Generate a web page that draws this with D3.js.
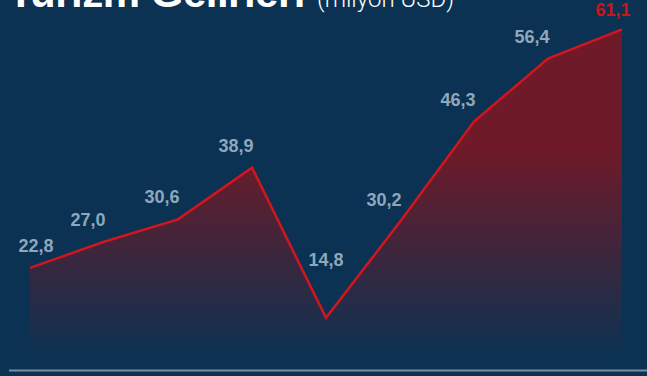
<!DOCTYPE html>
<html lang="tr">
<head>
<meta charset="UTF-8">
<title>Turizm Gelirleri</title>
<style>
  html, body { margin: 0; padding: 0; background: #0b3252; }
  svg { display: block; }
</style>
</head>
<body>
<div id="chart"></div>
<script src="https://d3js.org/d3.v7.min.js"></script>
<script>
const years = ["2016", "2017", "2018", "2019", "2020", "2021", "2022", "2023", "2024"];
const revenue = [22.8, 27.0, 30.6, 38.9, 14.8, 30.2, 46.3, 56.4, 61.1];
const titleMain = "Turizm Gelirleri";
const titleUnit = "(milyon USD)";

const width = 647, height = 376;
const bg = "#0b3252";
const data = years.map((y, i) => ({ year: y, value: revenue[i] }));

const x = d3.scalePoint().domain(years).range([30, 622]);
const y = d3.scaleLinear().domain([0, 65]).range([410, 5]);
const areaBase = 358;

const svg = d3.select("#chart").append("svg")
  .attr("width", width)
  .attr("height", height);

svg.append("rect")
  .attr("width", width)
  .attr("height", height)
  .attr("fill", bg);

// gradient for the area under the line
const grad = svg.append("defs").append("linearGradient")
  .attr("id", "area-grad")
  .attr("gradientUnits", "userSpaceOnUse")
  .attr("x1", 0).attr("x2", 0)
  .attr("y1", 150).attr("y2", areaBase);
grad.append("stop").attr("offset", "0%").attr("stop-color", "#6e1a28");
grad.append("stop").attr("offset", "100%").attr("stop-color", bg);

const area = d3.area()
  .x(d => x(d.year))
  .y0(areaBase)
  .y1(d => y(d.value));

svg.append("path")
  .datum(data)
  .attr("d", area)
  .attr("fill", "url(#area-grad)");

const line = d3.line()
  .x(d => x(d.year))
  .y(d => y(d.value));

svg.append("path")
  .datum(data)
  .attr("d", line)
  .attr("fill", "none")
  .attr("stroke", "#d3151d")
  .attr("stroke-width", 2.5)
  .attr("stroke-linejoin", "miter");

// value labels
const minVal = d3.min(revenue);
const last = data.length - 1;
svg.selectAll(".val")
  .data(data)
  .join("text")
  .attr("class", "val")
  .attr("x", (d, i) => d.value === minVal ? x(d.year) : i === last ? x(d.year) - 9 : Math.max(x(d.year) - 16, 36))
  .attr("y", (d, i) => d.value === minVal ? y(d.value) - 52 : i === last ? y(d.value) - 13 : y(d.value) - 16)
  .attr("text-anchor", "middle")
  .style("font-family", "'Liberation Sans', Arial, sans-serif")
  .style("font-weight", "bold")
  .style("font-size", "18px")
  .attr("fill", (d, i) => i === last ? "#c8161d" : "#8ea7bc")
  .text(d => d3.format(".1f")(d.value).replace(".", ","));

// bottom rule
svg.append("line")
  .attr("x1", 9).attr("x2", width)
  .attr("y1", 370.5).attr("y2", 370.5)
  .attr("stroke", "#7d8c9a")
  .attr("stroke-width", 2);

// title (partly cut off at the top, as in the original)
const title = svg.append("text")
  .attr("x", 8)
  .attr("y", 7)
  .attr("fill", "#ffffff");
title.append("tspan")
  .style("font-family", "'Liberation Sans', Arial, sans-serif")
  .style("font-weight", "bold")
  .style("font-size", "42px")
  .style("letter-spacing", "-0.5px")
  .text(titleMain);
title.append("tspan")
  .attr("dx", 12)
  .style("font-family", "Roboto, sans-serif")
  .style("font-weight", "300")
  .style("font-size", "24px")
  .text(titleUnit);
</script>
</body>
</html>
